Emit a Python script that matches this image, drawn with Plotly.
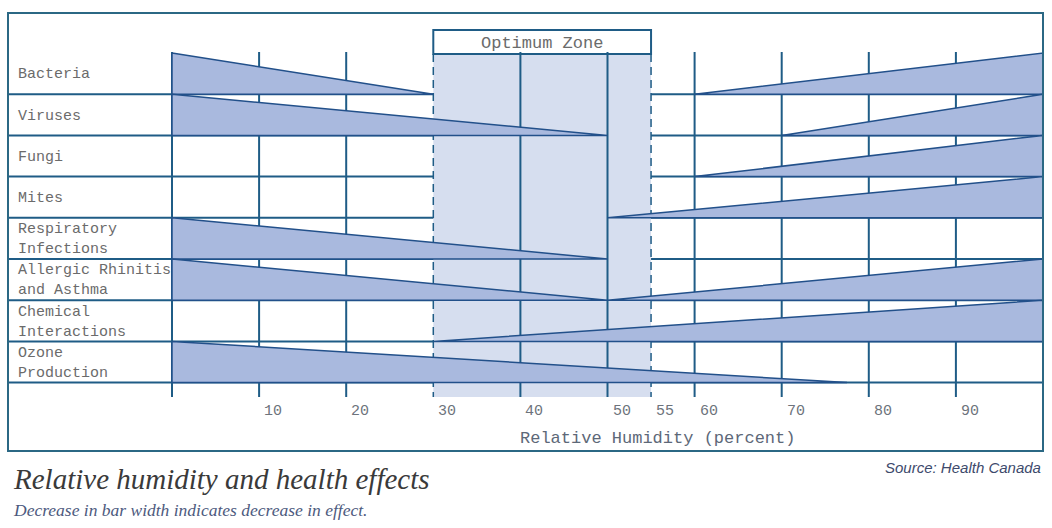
import plotly.graph_objects as go

# ---------------- data ----------------
categories = ["Bacteria", "Viruses", "Fungi", "Mites",
              "Respiratory<br>Infections", "Allergic Rhinitis<br>and Asthma",
              "Chemical<br>Interactions", "Ozone<br>Production"]
# decreasing effect: wedge from 0 % (full width) down to this humidity
left_end = [30, 50, None, None, 50, 50, None, 77.5]
# increasing effect: wedge from this humidity up to 100 % (full width)
right_start = [60, 70, 60, 50, None, 50, 30, None]
tick_values = [10, 20, 30, 40, 50, 55, 60, 70, 80, 90]
tick_labels = ["10", "20", "30", "40", "50", "55", "60", "70", "80", "90"]
grid_solid = [0, 10, 20, 40, 50, 60, 70, 80, 90]
optimum_zone = [30, 55]
x_max = 100

# ---------------- styles ----------------
W, H = 1052, 528
PX0, PX_PER = 172, 8.71          # pixel of x=0, pixels per percent
PY0, PY_PER = 53, 41.2           # pixel of row-0 top, pixels per row
GRID = "#1f5c86"
BOX = "#2b6884"
WEDGE_FILL = "#a9b9de"
WEDGE_LINE = "#22508a"
ZONE_FILL = "#d6deef"
MONO = "Liberation Mono, Courier New, monospace"
n_rows = len(categories)

fig = go.Figure()

def ry(px):
    return (px - PY0) / PY_PER

def px_paper(px):
    return px / W

def py_paper(py):
    return 1 - py / H

shapes = []
# optimum zone shading
shapes.append(dict(type="rect", xref="x", yref="y", x0=optimum_zone[0], x1=optimum_zone[1],
                   y0=ry(54), y1=ry(397), fillcolor=ZONE_FILL, line_width=0, layer="below"))
# optimum zone label box
shapes.append(dict(type="rect", xref="x", yref="y", x0=optimum_zone[0], x1=optimum_zone[1],
                   y0=ry(30), y1=ry(54), fillcolor="white", line=dict(color=GRID, width=2),
                   layer="below"))
# vertical grid lines
for v in grid_solid:
    shapes.append(dict(type="line", xref="x", yref="y", x0=v, x1=v, y0=ry(52), y1=ry(397),
                       line=dict(color=GRID, width=2), layer="below"))
for v in optimum_zone:
    shapes.append(dict(type="line", xref="x", yref="y", x0=v, x1=v, y0=ry(54), y1=ry(397),
                       line=dict(color=GRID, width=1.5, dash="8px,5px"), layer="below"))
# horizontal row separators
for r in range(1, n_rows + 1):
    shapes.append(dict(type="line", xref="paper", yref="y", x0=px_paper(8), x1=px_paper(1043),
                       y0=r, y1=r, line=dict(color=GRID, width=2), layer="below"))
# outer frame
shapes.append(dict(type="rect", xref="paper", yref="paper", x0=px_paper(8), x1=px_paper(1043),
                   y0=py_paper(451), y1=py_paper(13), line=dict(color=BOX, width=2),
                   fillcolor="rgba(0,0,0,0)", layer="above"))

# wedges
for r, (le, rs) in enumerate(zip(left_end, right_start)):
    if le is not None:
        fig.add_trace(go.Scatter(x=[0, 0, le, 0], y=[r, r + 1, r + 1, r], mode="lines",
                                 fill="toself", fillcolor=WEDGE_FILL,
                                 line=dict(color=WEDGE_LINE, width=1.5),
                                 hoverinfo="skip", showlegend=False))
    if rs is not None:
        fig.add_trace(go.Scatter(x=[rs, x_max, x_max, rs], y=[r + 1, r + 1, r, r + 1], mode="lines",
                                 fill="toself", fillcolor=WEDGE_FILL,
                                 line=dict(color=WEDGE_LINE, width=1.5),
                                 hoverinfo="skip", showlegend=False))

annotations = []
# row labels
for r, lab in enumerate(categories):
    annotations.append(dict(x=px_paper(16), xref="paper", y=r + 0.5 + 0.03, yref="y",
                            text=lab, showarrow=False, xanchor="left", yanchor="middle",
                            align="left", font=dict(family=MONO, size=15, color="#6b6b6b")))
# tick labels
for v, t in zip(tick_values, tick_labels):
    annotations.append(dict(x=v, xref="x", y=ry(411.5), yref="y", text=t, showarrow=False,
                            xanchor="center", yanchor="middle", xshift=14,
                            font=dict(family=MONO, size=15, color="#6d737c")))
# axis title
annotations.append(dict(x=px_paper(657), xref="paper", y=ry(438), yref="y",
                        text="Relative Humidity (percent)", showarrow=False,
                        xanchor="center", yanchor="middle",
                        font=dict(family=MONO, size=17, color="#5d6878")))
# optimum zone text
annotations.append(dict(x=sum(optimum_zone) / 2, xref="x", y=ry(43), yref="y",
                        text="Optimum Zone", showarrow=False, xanchor="center", yanchor="middle",
                        font=dict(family=MONO, size=17, color="#6b6b6b")))
# titles
annotations.append(dict(x=px_paper(11), xref="paper", y=py_paper(479), yref="paper",
                        text="<i>Relative humidity and health effects</i>", showarrow=False,
                        xanchor="left", yanchor="middle",
                        font=dict(family="Liberation Serif, serif", size=29, color="#3a3a3a")))
annotations.append(dict(x=px_paper(11), xref="paper", y=py_paper(510), yref="paper",
                        text="<i>Decrease in bar width indicates decrease in effect.</i>",
                        showarrow=False, xanchor="left", yanchor="middle",
                        font=dict(family="Liberation Serif, serif", size=17.5, color="#4d5a7e")))
annotations.append(dict(x=px_paper(1043), xref="paper", y=py_paper(467), yref="paper",
                        text="<i>Source: Health Canada</i>", showarrow=False,
                        xanchor="right", yanchor="middle",
                        font=dict(family="Liberation Sans, sans-serif", size=15, color="#3d4a6c")))

fig.update_layout(
    width=W, height=H, margin=dict(l=0, r=0, t=0, b=0),
    paper_bgcolor="white", plot_bgcolor="white",
    xaxis=dict(range=[-PX0 / PX_PER, (W - PX0) / PX_PER], visible=False, fixedrange=True),
    yaxis=dict(range=[(H - PY0) / PY_PER, -PY0 / PY_PER], visible=False, fixedrange=True),
    shapes=shapes, annotations=annotations, showlegend=False,
)

fig.write_html("out.html")
